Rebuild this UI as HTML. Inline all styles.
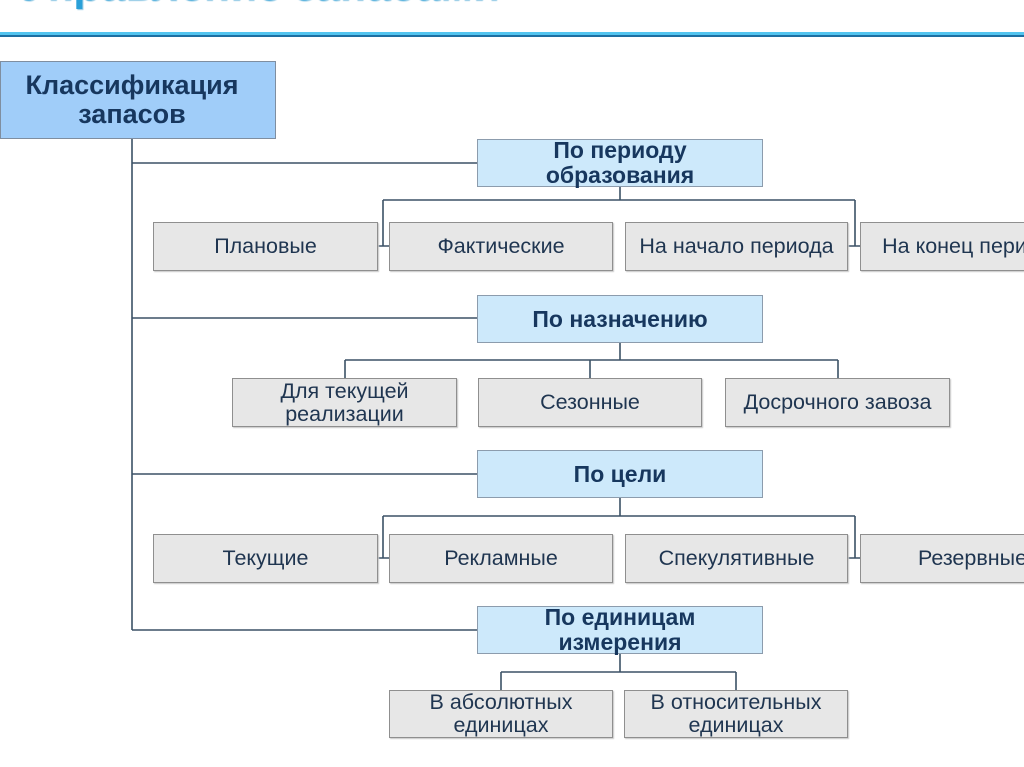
<!DOCTYPE html>
<html>
<head>
<meta charset="utf-8">
<style>
html,body{margin:0;padding:0;}
body{width:1024px;height:767px;overflow:hidden;position:relative;background:#fff;font-family:"Liberation Sans",Arial,sans-serif;}
.title{position:absolute;left:21px;top:-37px;font-size:44px;font-weight:bold;color:#2aa0d8;line-height:46px;white-space:nowrap;text-shadow:1px 1px 1px #8fc8e4;}
.l1{position:absolute;left:0;top:32px;width:1024px;height:3px;background:#52c4ef;}
.l2{position:absolute;left:0;top:35px;width:1024px;height:2px;background:#1d6fa2;}
.box{position:absolute;box-sizing:border-box;display:flex;align-items:center;justify-content:center;text-align:center;white-space:nowrap;}
.root{background:#a0cdf9;border:1px solid #7f8ea0;color:#17375e;font-weight:bold;font-size:27px;line-height:29px;padding-right:12px;}
.cat{background:#cde9fb;border:1px solid #8c9cad;color:#17375e;font-weight:bold;font-size:23px;line-height:25px;}
.ch{background:#e7e7e7;border:1px solid #8f8f8f;color:#1f3550;font-size:21.5px;line-height:23px;box-shadow:1px 1px 1px #c8c8c8;}
svg{position:absolute;left:0;top:0;}
</style>
</head>
<body>
<div class="title">Управление запасами</div>
<div class="l1"></div>
<div class="l2"></div>

<svg width="1024" height="767" viewBox="0 0 1024 767">
<g stroke="#3b5166" stroke-width="1.6" fill="none">
<path d="M132 138 V630"/>
<path d="M132 163 H477 M132 318 H477 M132 474 H477 M132 630 H477"/>
<path d="M620 187 V200 M383 200 H855 M383 200 V246 M378 246 H389 M855 200 V246 M848 246 H860"/>
<path d="M620 342 V360 M345 360 H838 M345 360 V378 M590 360 V378 M838 360 V378"/>
<path d="M620 498 V516 M383 516 H855 M383 516 V558 M378 558 H389 M855 516 V558 M848 558 H860"/>
<path d="M620 654 V672 M501 672 H736 M501 672 V690 M736 672 V690"/>
</g>
</svg>

<div class="box root" style="left:0;top:61px;width:276px;height:78px;">Классификация<br>запасов</div>

<div class="box cat" style="left:477px;top:139px;width:286px;height:48px;">По периоду<br>образования</div>
<div class="box cat" style="left:477px;top:295px;width:286px;height:48px;">По назначению</div>
<div class="box cat" style="left:477px;top:450px;width:286px;height:48px;">По цели</div>
<div class="box cat" style="left:477px;top:606px;width:286px;height:48px;">По единицам<br>измерения</div>

<div class="box ch" style="left:153px;top:222px;width:225px;height:49px;">Плановые</div>
<div class="box ch" style="left:389px;top:222px;width:224px;height:49px;">Фактические</div>
<div class="box ch" style="left:625px;top:222px;width:223px;height:49px;">На начало периода</div>
<div class="box ch" style="left:860px;top:222px;width:225px;height:49px;">На конец периода</div>

<div class="box ch" style="left:232px;top:378px;width:225px;height:49px;">Для текущей<br>реализации</div>
<div class="box ch" style="left:478px;top:378px;width:224px;height:49px;">Сезонные</div>
<div class="box ch" style="left:725px;top:378px;width:225px;height:49px;">Досрочного завоза</div>

<div class="box ch" style="left:153px;top:534px;width:225px;height:49px;">Текущие</div>
<div class="box ch" style="left:389px;top:534px;width:224px;height:49px;">Рекламные</div>
<div class="box ch" style="left:625px;top:534px;width:223px;height:49px;">Спекулятивные</div>
<div class="box ch" style="left:860px;top:534px;width:225px;height:49px;">Резервные</div>

<div class="box ch" style="left:389px;top:690px;width:224px;height:48px;">В абсолютных<br>единицах</div>
<div class="box ch" style="left:624px;top:690px;width:224px;height:48px;">В относительных<br>единицах</div>
</body>
</html>
